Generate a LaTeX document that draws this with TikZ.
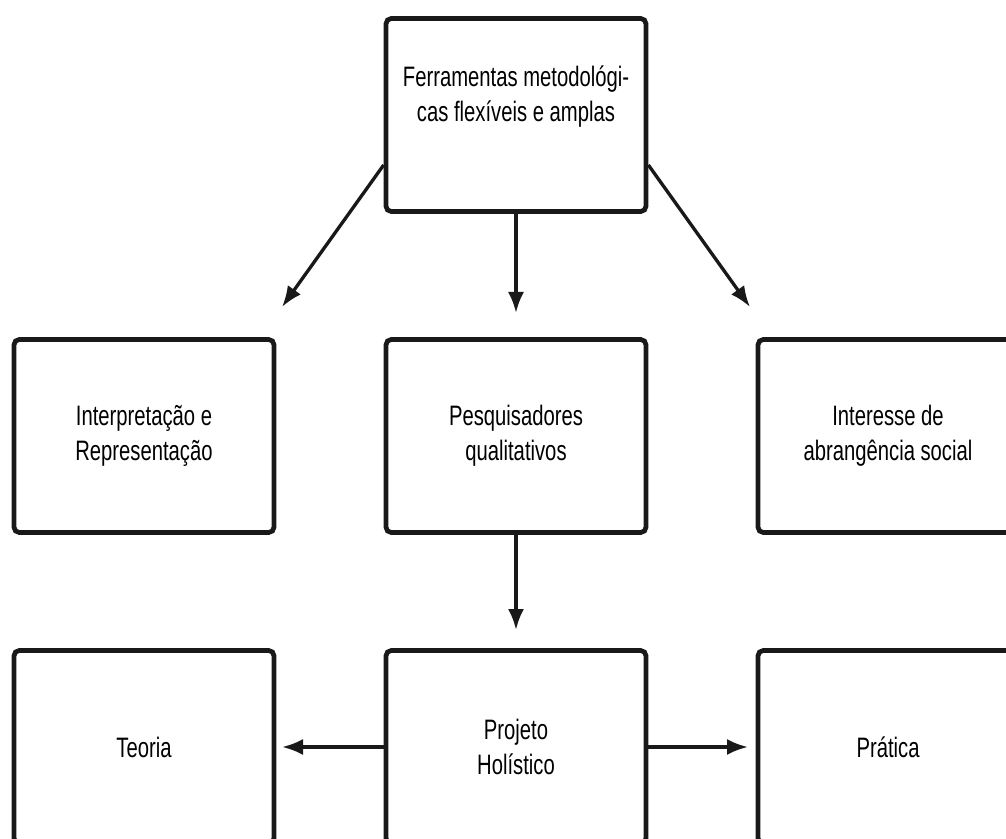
\documentclass[tikz,border=0pt]{standalone}
\usepackage{fontspec}
\setmainfont{Liberation Sans}[FakeStretch=0.72]
\usetikzlibrary{arrows.meta}

\begin{document}
\begin{tikzpicture}[
        caixa/.style={draw=black!90, line width=2.7pt, rounded corners=3pt,
            minimum width=5.2cm, minimum height=3.86cm, align=center,
            font=\fontsize{16}{20}\selectfont},
        seta/.style={-{Latex[length=0.42cm,width=0.32cm]}, line width=1.9pt, black!90}]
        \useasboundingbox (0,0) rectangle (20.12,16.76);
        \clip (0,0) rectangle (20.12,16.76);
        % caixas
        \node[caixa] (ferr) at (10.32,14.46) {Ferramentas metodológi-\\cas flexíveis e amplas\\[4pt]};
        \node[caixa] (interp) at (2.88,8.04) {Interpretação e\\Representação};
        \node[caixa] (pesq) at (10.32,8.04) {Pesquisadores\\qualitativos};
        \node[caixa] (inter) at (17.76,8.04) {Interesse de\\abrangência social};
        \node[caixa] (teoria) at (2.88,1.82) {Teoria};
        \node[caixa] (proj) at (10.32,1.82) {Projeto\\Holístico};
        \node[caixa] (prat) at (17.76,1.82) {Prática};
        % pontas livres
        \coordinate (esq) at (5.64,10.62);
        \coordinate (meio) at (10.32,10.5);
        \coordinate (dir) at (15.0,10.62);
        \coordinate (baixo) at (10.32,4.16);
        \coordinate (teo) at (5.64,1.82);
        \coordinate (pra) at (14.96,1.82);
        % setas
        \draw[seta] ([yshift=-1cm]ferr.west) -- (esq);
        \draw[seta] (ferr.south) -- (meio);
        \draw[seta] ([yshift=-1cm]ferr.east) -- (dir);
        \draw[seta] (pesq.south) -- (baixo);
        \draw[seta] (proj.west) -- (teo);
        \draw[seta] (proj.east) -- (pra);
    \end{tikzpicture}
\end{document}
